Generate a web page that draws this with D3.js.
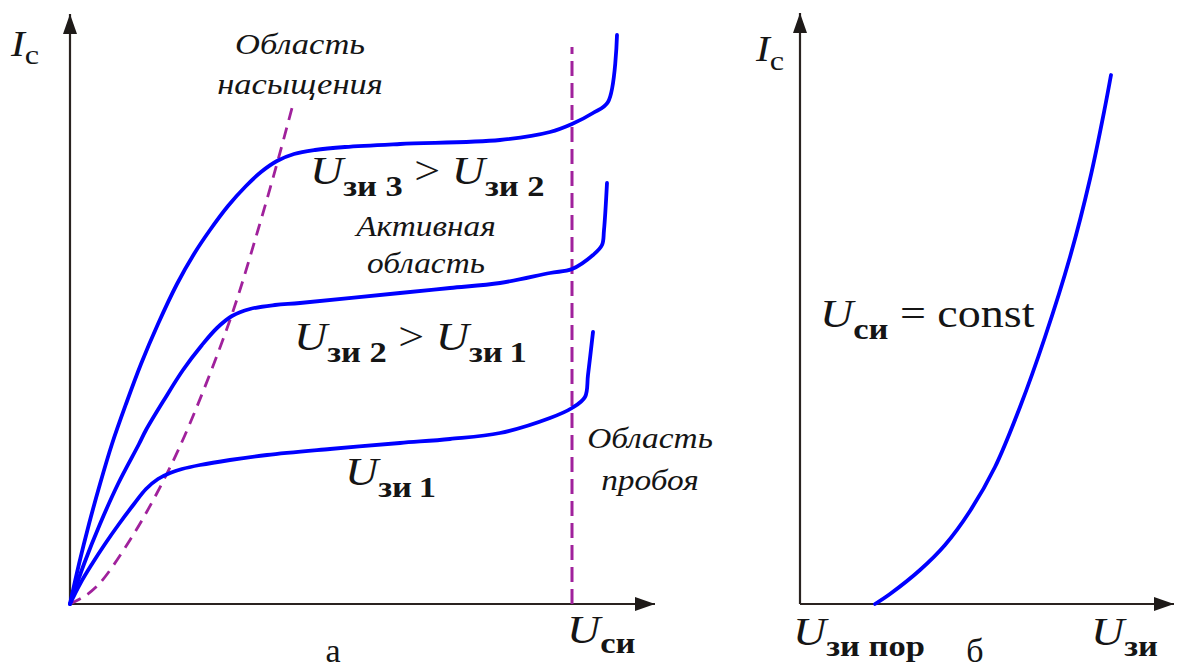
<!DOCTYPE html>
<html><head><meta charset="utf-8">
<script src="https://cdn.jsdelivr.net/npm/d3@7"></script>
<style>
body{margin:0;background:#fff}
svg{display:block}
text{font-family:"Liberation Serif","Times New Roman",Times,"DejaVu Serif",serif;fill:#151515}
</style>
</head><body>
<svg id="c" width="1179" height="669" font-family="Liberation Serif, Times New Roman, serif"></svg>
<script>
// ---- data (arbitrary units) ----
// Panel a: output characteristics Ic(Uси) for three gate voltages
const curveUzi3 = [[0,0],[0.9,4.0],[1.9,8.0],[3.0,12.0],[4.2,16.0],[5.6,20.0],[7.1,24.0],[8.8,28.0],[10.7,32.0],[12.4,35.0],[14.0,37.4],[15.8,39.8],[17.6,41.8],[19.1,43.2],[20.7,44.3],[22.4,45.0],[24.5,45.4],[27.5,45.7],[33.0,46.0],[43.0,46.4],[48.0,47.2],[50.2,48.0],[52.3,49.1],[53.8,50.2],[54.7,56.9]];
const curveUzi2 = [[0,0],[1.4,4.0],[3.0,8.0],[4.8,12.0],[6.9,16.0],[7.6,17.4],[9.4,20.4],[11.3,23.4],[13.2,25.9],[14.7,27.6],[16.2,28.8],[18.0,29.5],[20.5,29.9],[23.0,30.1],[33.0,31.1],[38.0,31.6],[43.0,32.1],[48.0,33.1],[50.2,33.5],[52.3,34.9],[53.2,35.9],[53.4,37.4],[53.7,42.1]];
const curveUzi1 = [[0,0],[1.0,2.0],[2.2,4.0],[3.5,6.0],[4.9,8.0],[6.4,10.0],[7.6,11.5],[8.8,12.5],[10.0,13.1],[11.2,13.5],[13.0,13.9],[16.0,14.4],[19.7,14.9],[26.0,15.5],[33.0,16.1],[38.0,16.5],[43.0,17.1],[48.0,18.6],[50.2,19.6],[51.5,20.7],[51.8,22.9],[52.3,27.2]];
// boundary of saturation region (dashed)
const saturationBoundary = [[0,0],[1.5,0.8],[3.0,2.1],[6.0,6.4],[8.7,11.1],[11.5,16.9],[16.0,28.4],[18.8,37.4],[20.8,44.4],[22.2,49.6]];
// breakdown voltage (vertical dashed)
const breakdownU = 50.2;
const breakdownTop = 55.7;
// Panel b: transfer characteristic Ic(Uзи)
const transferCurve = [[7.5,0],[9.0,1.0],[12.0,3.4],[14.5,5.9],[17.0,9.3],[19.5,13.7],[22.0,19.7],[24.5,26.7],[27.0,34.7],[29.0,42.5],[30.5,49.7],[31.1,52.9]];

// axis extents (data units)
const axisA = {x:58.5, y:59};
const axisB = {x:37.4, y:59.1};

// ---- texts ----
const regionSat = ["Область","насыщения"];
const regionAct = ["Активная","область"];
const regionBrk = ["Область","пробоя"];
const lblCurve3 = [["U","U"],["зи 3","s"],[" > ","o"],["U","U"],["зи 2","s"]];
const lblCurve2 = [["U","U"],["зи 2","s"],[" > ","o"],["U","U"],["зи\u20091","s"]];
const lblCurve1 = [["U","U"],["зи\u20091","s"]];
const lblXA = [["U","U"],["си","s"]];
const lblYA = [["I","I"],["c","s"]];
const lblConst = [["U","U"],["си","s"],[" = const","o"]];
const lblXB0 = [["U","U"],["зи пор","s"]];
const lblXB = [["U","U"],["зи","s"]];
const panelNames = ["а","б"];

// ---- drawing ----
const svg = d3.select("#c");
const defs = svg.append("defs");
defs.append("marker").attr("id","arr").attr("viewBox","0 0 20 14")
  .attr("refX",20).attr("refY",7).attr("markerWidth",20).attr("markerHeight",14)
  .attr("markerUnits","userSpaceOnUse").attr("orient","auto")
  .append("path").attr("d","M0,0L20,7L0,14Z").attr("fill","#1e1a18");

const xA = d3.scaleLinear([0,axisA.x],[70,655]);
const yA = d3.scaleLinear([0,axisA.y],[604,14]);
const xB = d3.scaleLinear([0,axisB.x],[800,1174]);
const yB = d3.scaleLinear([0,axisB.y],[604,13]);

function axes(x,y){
  const gx = svg.append("g").attr("transform",`translate(0,${y(0)})`)
    .call(d3.axisBottom(x).tickValues([]).tickSizeOuter(0));
  const gy = svg.append("g").attr("transform",`translate(${x(0)},0)`)
    .call(d3.axisLeft(y).tickValues([]).tickSizeOuter(0));
  [gx,gy].forEach(g=>g.select(".domain").attr("stroke","#2a2320").attr("stroke-width",2.2)
    .attr("marker-end","url(#arr)"));
  gy.select(".domain").attr("d",`M0,${y.range()[0]}V${y.range()[1]}`);
  gx.select(".domain").attr("d",`M${x.range()[0]},0H${x.range()[1]}`);
}
axes(xA,yA);
axes(xB,yB);

const crv = d3.curveCatmullRom.alpha(0.5);
const lineA = d3.line().x(d=>xA(d[0])).y(d=>yA(d[1])).curve(crv);
const lineB = d3.line().x(d=>xB(d[0])).y(d=>yB(d[1])).curve(crv);

const dashCol = "#a0219c";
svg.append("path").attr("d",lineA(saturationBoundary)).attr("fill","none")
  .attr("stroke",dashCol).attr("stroke-width",2.8).attr("stroke-dasharray","12,8");
svg.append("line").attr("x1",xA(breakdownU)).attr("x2",xA(breakdownU))
  .attr("y1",yA(0)).attr("y2",yA(breakdownTop))
  .attr("stroke",dashCol).attr("stroke-width",3).attr("stroke-dasharray","15,7");

[curveUzi1,curveUzi2,curveUzi3].forEach(c=>{
  svg.append("path").attr("d",lineA(c)).attr("fill","none")
    .attr("stroke","#0000ff").attr("stroke-width",3.8).attr("stroke-linecap","round").attr("stroke-linejoin","round");
});
svg.append("path").attr("d",lineB(transferCurve)).attr("fill","none")
  .attr("stroke","#0000ff").attr("stroke-width",3.8).attr("stroke-linecap","round");

const SX = 1.15;
function formula(parts,x0,y0,opt={}){
  const t = svg.append("text").attr("transform",`translate(${x0},${y0}) scale(${SX},1)`)
    .attr("xml:space","preserve");
  const U = opt.U||40, S = opt.S||30, dy = opt.dy||12;
  parts.forEach(([s,k])=>{
    const ts = t.append("tspan").attr("y", k==="s"?dy:0).text(s);
    if(k==="U"||k==="I"){ts.attr("font-style","italic").attr("font-size",k==="I"?(opt.I||36):U);}
    else if(k==="s"){ts.attr("font-size",S).attr("font-weight",/[зсп]/.test(s)?"bold":"normal");}
    else {ts.attr("font-size",U);}
  });
  return t;
}
function region(lines,cx,y1,y2,size){
  [y1,y2].forEach((yy,i)=>{
    svg.append("text").attr("transform",`translate(${cx},${yy}) scale(${SX},1)`)
      .attr("text-anchor","middle").attr("font-style","italic").attr("font-size",size).text(lines[i]);
  });
}

formula(lblYA,11,56,{S:28,dy:8});
formula(lblYA,756,61,{S:28,dy:9});
region(regionSat,300,54,94,30);
region(regionAct,426,236,273,29);
region(regionBrk,650,448,490,29);
formula(lblCurve3,310,184);
formula(lblCurve2,294,350);
formula(lblCurve1,345,485);
formula(lblXA,567,643,{dy:10});
formula(lblConst,820,327,{dy:12});
formula(lblXB0,793,645,{dy:11});
formula(lblXB,1091,645,{dy:11});
svg.append("text").attr("x",333).attr("y",662).attr("text-anchor","middle").attr("font-size",34).text(panelNames[0]);
svg.append("text").attr("x",975).attr("y",662).attr("text-anchor","middle").attr("font-size",34).text(panelNames[1]);
</script>
</body></html>
